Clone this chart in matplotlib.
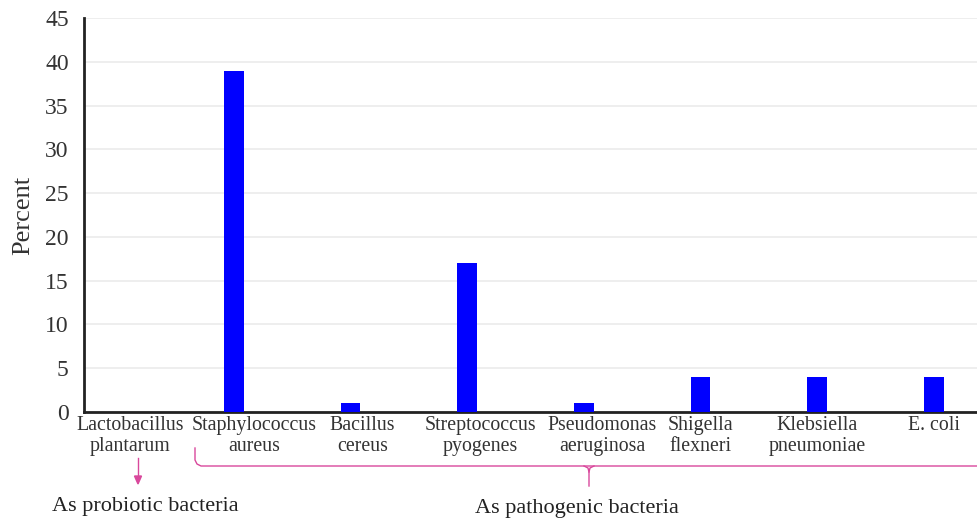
import numpy as np
import matplotlib.pyplot as plt
import matplotlib.transforms as mtransforms

species = ["Lactobacillus\nplantarum", "Staphylococcus\naureus", "Bacillus\ncereus",
           "Streptococcus\npyogenes", "Pseudomonas\naeruginosa", "Shigella\nflexneri",
           "Klebsiella\npneumoniae", "E. coli"]
percent = [0, 39, 1, 17, 1, 4, 4, 4]
yticks = [0, 5, 10, 15, 20, 25, 30, 35, 40, 45]

# horizontal nudge of each category label (pixels), as in the original layout
label_shift = [13, 20, 12, 13, 18, 0, 0, 0]

plt.rcParams['font.family'] = ['Liberation Serif', 'DejaVu Serif']

fig = plt.figure(figsize=(9.77, 5.23), dpi=100)
ax = fig.add_axes([0.086, 0.2122, 0.914, 0.7534])

x = np.arange(len(species))
ax.bar(x, percent, width=0.17, color='#0000ff', zorder=3)

ax.set_xlim(-0.285, 7.37)
ax.set_ylim(0, 45)
ax.set_yticks(yticks)
ax.set_xticks(x)
ax.set_xticklabels(species, fontsize=14.3, color='#333333', linespacing=1.15)
ax.tick_params(axis='x', length=0, pad=3)
ax.tick_params(axis='y', length=0, pad=11, labelsize=17, colors='#333333')
for lbl, dx in zip(ax.get_xticklabels(), label_shift):
    lbl.set_transform(lbl.get_transform() + mtransforms.ScaledTranslation(dx / 100, 0, fig.dpi_scale_trans))
ax.yaxis.grid(True, color='#ebebeb', linewidth=1.2, zorder=0)
ax.set_axisbelow(True)
for s in ['top', 'right']:
    ax.spines[s].set_visible(False)
for s in ['left', 'bottom']:
    ax.spines[s].set_color('#222222')
    ax.spines[s].set_linewidth(2)
ax.set_ylabel("Percent", fontsize=19, color='#333333', labelpad=8)

# annotations below the axis (figure pixel coordinates)
pink = '#d9489c'
W, H = 977, 523
def fx(px):
    return px / W
def fy(py):
    return 1 - py / H

# arrow under Lactobacillus
fig.add_artist(plt.Line2D([fx(138), fx(138)], [fy(458), fy(478)], color=pink, lw=1, transform=fig.transFigure))
fig.patches.append(plt.Polygon([[fx(134.5), fy(476)], [fx(141.5), fy(476)], [fx(138), fy(484)]],
                               closed=True, color=pink, transform=fig.transFigure))
fig.text(fx(145), fy(506), "As probiotic bacteria", ha='center', va='center', fontsize=16, color='#222222')

# brace under pathogenic species
fig.add_artist(plt.Line2D([fx(195), fx(195), fx(197), fx(201), fx(977)],
                          [fy(448), fy(460), fy(464), fy(466), fy(466)],
                          color=pink, lw=1, transform=fig.transFigure))
fig.add_artist(plt.Line2D([fx(584), fx(588), fx(589), fx(589)], [fy(466), fy(468), fy(472), fy(486)],
                          color=pink, lw=1, transform=fig.transFigure))
fig.add_artist(plt.Line2D([fx(594), fx(590), fx(589)], [fy(466), fy(468), fy(472)],
                          color=pink, lw=1, transform=fig.transFigure))
fig.text(fx(577), fy(508), "As pathogenic bacteria", ha='center', va='center', fontsize=16, color='#222222')

fig.savefig("out.png", dpi=100)
